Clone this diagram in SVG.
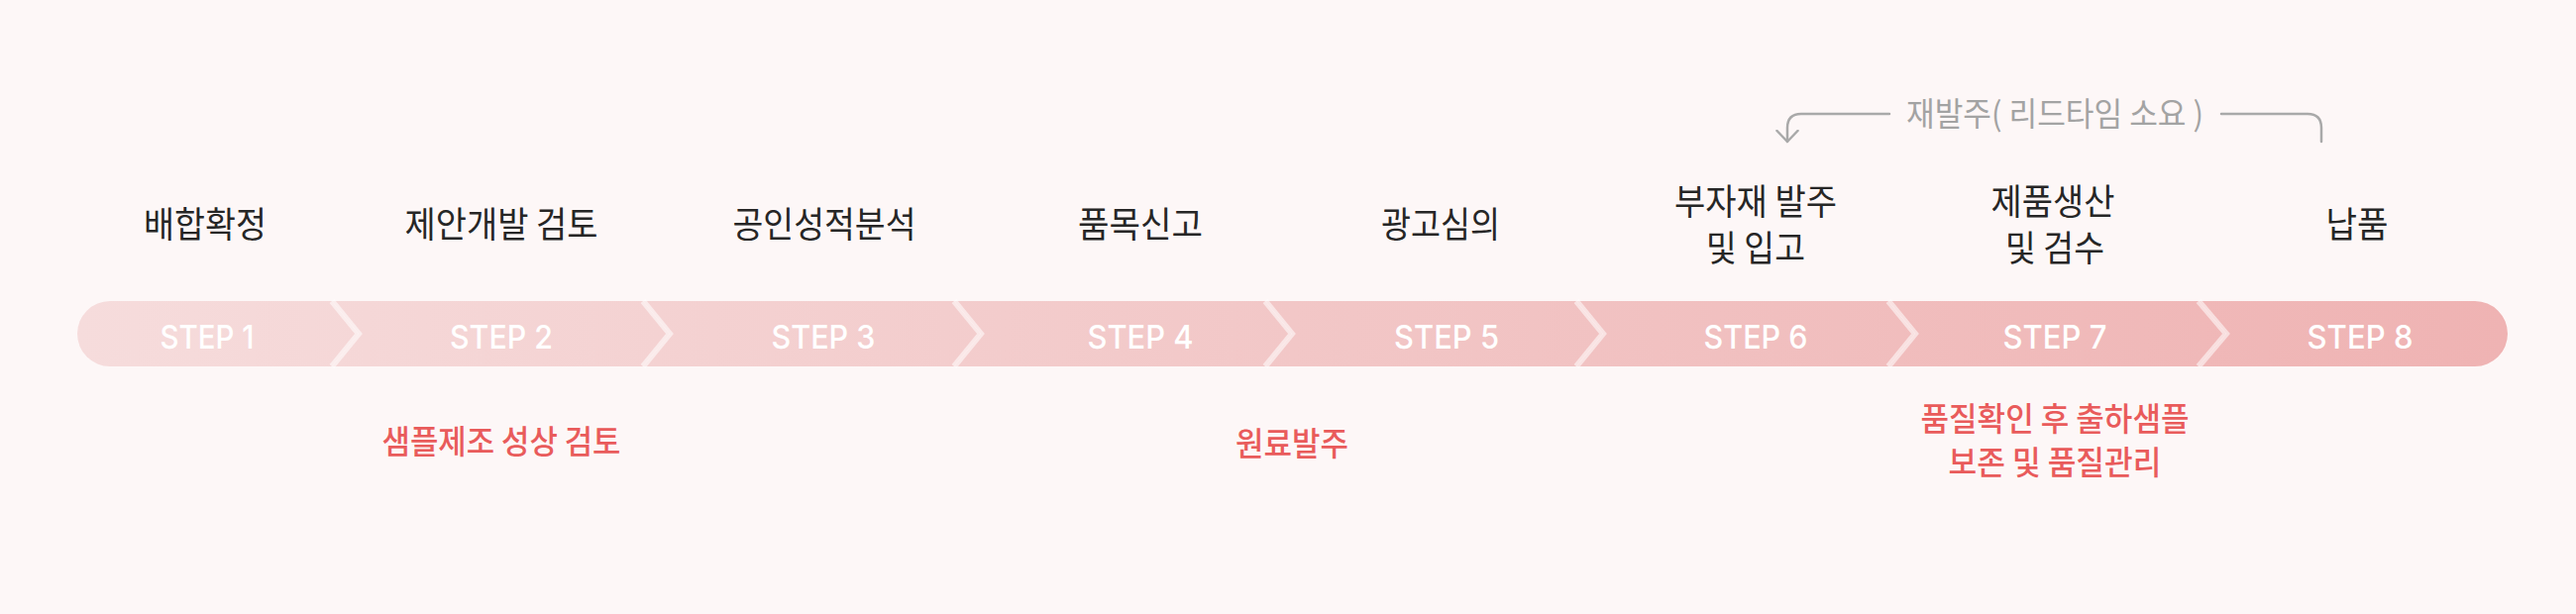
<svg xmlns="http://www.w3.org/2000/svg" width="2600" height="620" viewBox="0 0 2600 620">
<defs>
<linearGradient id="barGrad" gradientUnits="userSpaceOnUse" x1="78" y1="0" x2="2531" y2="0">
<stop offset="0" stop-color="#f6dcdc"/>
<stop offset="0.5" stop-color="#f2c7c7"/>
<stop offset="1" stop-color="#efb3b3"/>
</linearGradient>
<marker id="arrowV" markerWidth="24" markerHeight="24" refX="12" refY="12" orient="auto" markerUnits="userSpaceOnUse" viewBox="0 0 24 24">
<polyline points="1,1.5 12,12 1,22.5" fill="none" stroke="#a9a9a9" stroke-width="2.5" stroke-linecap="round" stroke-linejoin="round"/>
</marker>
<style>
.seg{fill:url(#barGrad);}
.sep{fill:none;stroke:#ffffff;stroke-opacity:0.55;stroke-width:6;}
.step{font-family:Inter,"Liberation Sans",sans-serif;font-size:33px;font-weight:500;fill:#ffffff;text-anchor:middle;}
.lbl{font-family:"Noto Sans CJK KR","Noto Sans",sans-serif;font-size:36px;font-weight:400;fill:#262626;text-anchor:middle;}
.red{font-family:"Noto Sans CJK KR","Noto Sans",sans-serif;font-size:33px;font-weight:500;fill:#e95b5b;text-anchor:middle;}
.gray{font-family:"Noto Sans CJK KR","Noto Sans",sans-serif;font-size:33px;font-weight:400;fill:#a3a3a3;text-anchor:middle;}
.conn{fill:none;stroke:#a9a9a9;stroke-width:2.5;stroke-linecap:round;}
</style>
</defs>
<rect x="0" y="0" width="2600" height="620" fill="#fdf7f7"/>

<g id="step1">
<path class="seg" d="M111,304 H335 L362,337 L335,370 H111 A33,33 0 0 1 111,304 Z"/>
<text class="step" x="209" y="352" textLength="95" lengthAdjust="spacingAndGlyphs">STEP 1</text>
<text class="lbl" x="207" y="240" textLength="124" lengthAdjust="spacingAndGlyphs">배합확정</text>
</g>

<g id="step2">
<path class="seg" d="M335,304 L362,337 L335,370 H649 L676,337 L649,304 Z"/>
<text class="step" x="506" y="352" textLength="104" lengthAdjust="spacingAndGlyphs">STEP 2</text>
<text class="lbl" x="506" y="240" textLength="195" lengthAdjust="spacingAndGlyphs">제안개발 검토</text>
<text class="red" x="506" y="458" textLength="241" lengthAdjust="spacingAndGlyphs">샘플제조 성상 검토</text>
</g>

<g id="step3">
<path class="seg" d="M649,304 L676,337 L649,370 H963 L990,337 L963,304 Z"/>
<text class="step" x="831" y="352" textLength="105" lengthAdjust="spacingAndGlyphs">STEP 3</text>
<text class="lbl" x="832" y="240" textLength="185" lengthAdjust="spacingAndGlyphs">공인성적분석</text>
</g>

<g id="step4">
<path class="seg" d="M963,304 L990,337 L963,370 H1277 L1304,337 L1277,304 Z"/>
<text class="step" x="1151" y="352" textLength="107" lengthAdjust="spacingAndGlyphs">STEP 4</text>
<text class="lbl" x="1151" y="240" textLength="126" lengthAdjust="spacingAndGlyphs">품목신고</text>
</g>

<g id="step5">
<path class="seg" d="M1277,304 L1304,337 L1277,370 H1591 L1618,337 L1591,304 Z"/>
<text class="step" x="1460" y="352" textLength="106" lengthAdjust="spacingAndGlyphs">STEP 5</text>
<text class="lbl" x="1454" y="240" textLength="120" lengthAdjust="spacingAndGlyphs">광고심의</text>
</g>

<g id="step6">
<path class="seg" d="M1591,304 L1618,337 L1591,370 H1906 L1933,337 L1906,304 Z"/>
<text class="step" x="1772" y="352" textLength="105" lengthAdjust="spacingAndGlyphs">STEP 6</text>
<text class="lbl" x="1772" y="217" textLength="164" lengthAdjust="spacingAndGlyphs">부자재 발주</text>
<text class="lbl" x="1772" y="264" textLength="100" lengthAdjust="spacingAndGlyphs">및 입고</text>
</g>

<g id="step7">
<path class="seg" d="M1906,304 L1933,337 L1906,370 H2219 L2247,337 L2219,304 Z"/>
<text class="step" x="2074" y="352" textLength="105" lengthAdjust="spacingAndGlyphs">STEP 7</text>
<text class="lbl" x="2072" y="217" textLength="125" lengthAdjust="spacingAndGlyphs">제품생산</text>
<text class="lbl" x="2074" y="264" textLength="100" lengthAdjust="spacingAndGlyphs">및 검수</text>
<text class="red" x="2074" y="435" textLength="271" lengthAdjust="spacingAndGlyphs">품질확인 후 출하샘플</text>
<text class="red" x="2074" y="479" textLength="215" lengthAdjust="spacingAndGlyphs">보존 및 품질관리</text>
</g>

<g id="step8">
<path class="seg" d="M2219,304 L2247,337 L2219,370 H2498 A33,33 0 0 0 2498,304 Z"/>
<text class="step" x="2382" y="352" textLength="107" lengthAdjust="spacingAndGlyphs">STEP 8</text>
<text class="lbl" x="2379" y="240" textLength="63" lengthAdjust="spacingAndGlyphs">납품</text>
</g>

<g id="note-material">
<text class="red" x="1304" y="460" textLength="114" lengthAdjust="spacingAndGlyphs">원료발주</text>
</g>

<g id="separators">
<polyline class="sep" points="335,304 362,337 335,370"/>
<polyline class="sep" points="649,304 676,337 649,370"/>
<polyline class="sep" points="963,304 990,337 963,370"/>
<polyline class="sep" points="1277,304 1304,337 1277,370"/>
<polyline class="sep" points="1591,304 1618,337 1591,370"/>
<polyline class="sep" points="1906,304 1933,337 1906,370"/>
<polyline class="sep" points="2219,304 2247,337 2219,370"/>
</g>

<g id="connectors">
<text class="gray" x="2074" y="127" textLength="300" lengthAdjust="spacingAndGlyphs">재발주( 리드타임 소요 )</text>
<path class="conn" d="M1907,115 H1818 Q1804,115 1804,129 V143" marker-end="url(#arrowV)"/>
<path class="conn" d="M2242,115 H2329 Q2343,115 2343,129 V143"/>
</g>
</svg>
